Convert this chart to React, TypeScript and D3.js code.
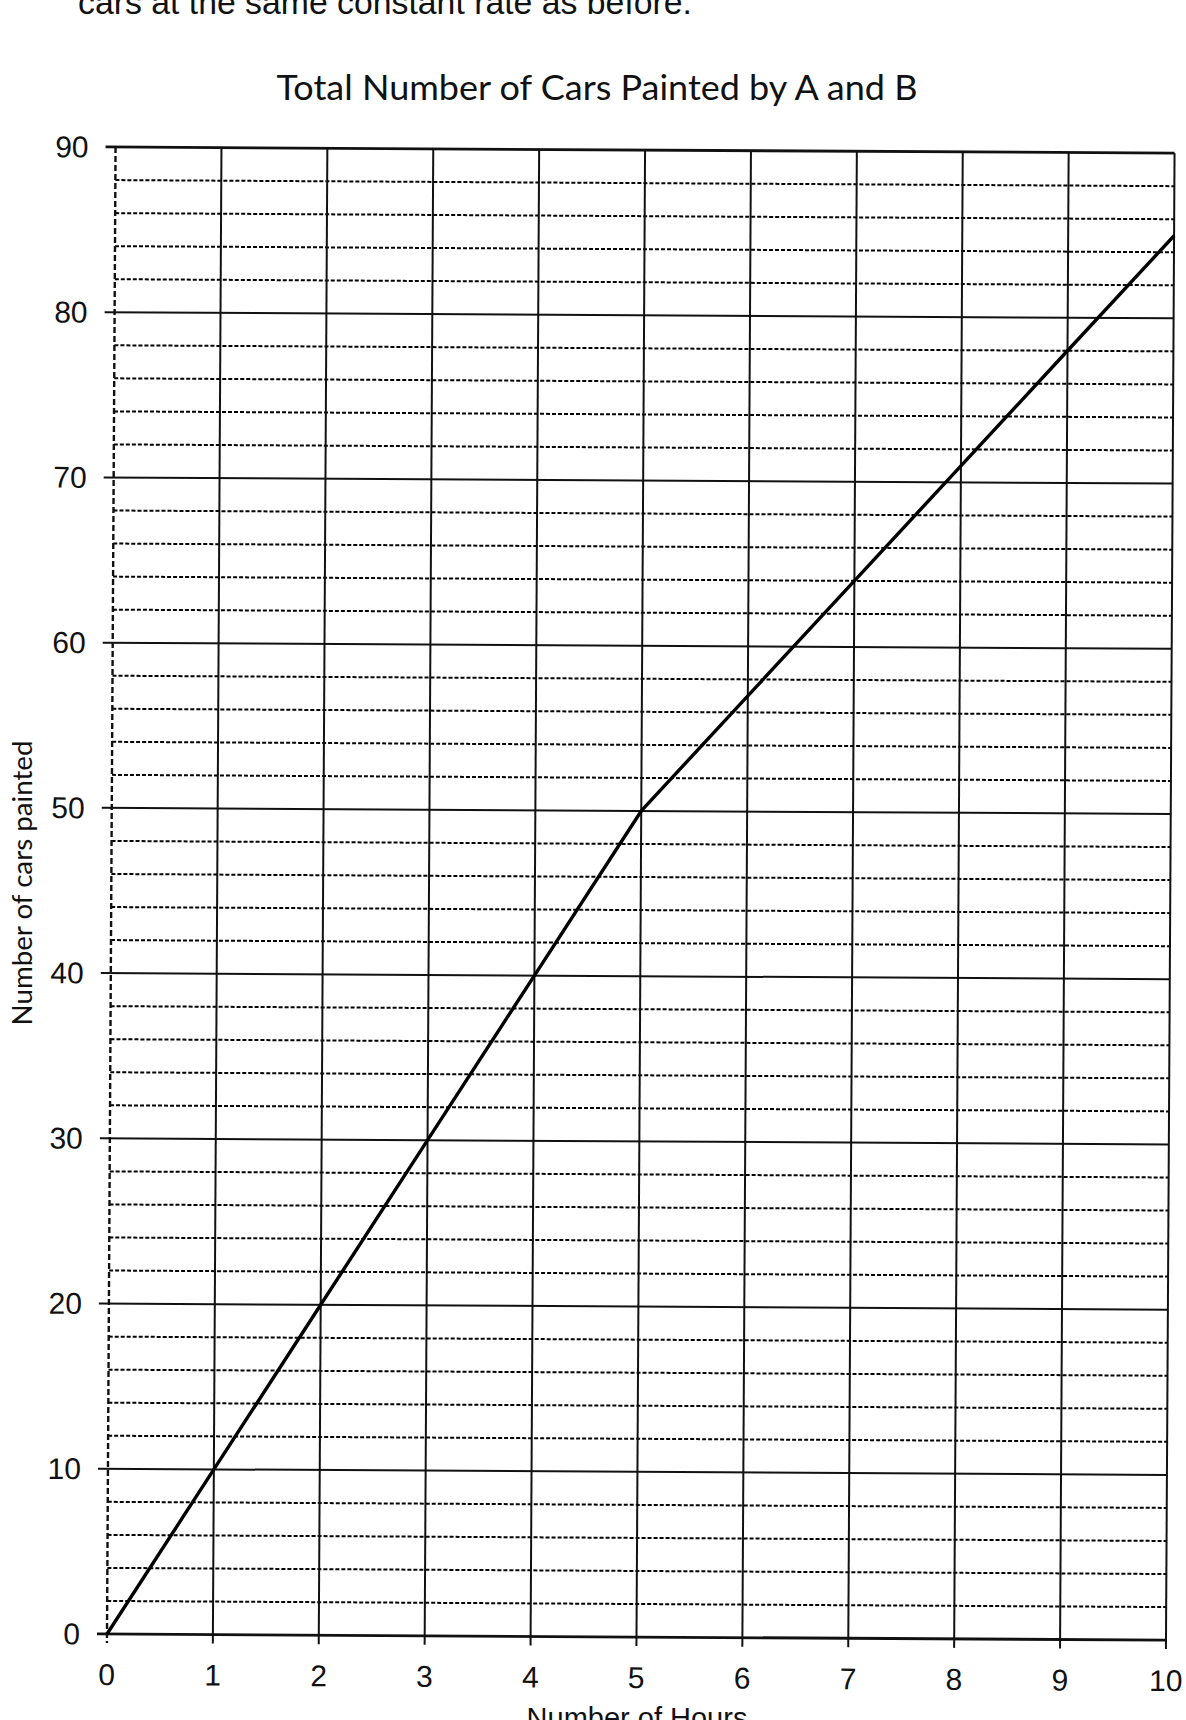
import React, { useEffect, useRef } from 'react';
import * as d3 from 'd3';

// chart values
const hours = [0, 1, 2, 3, 4, 5, 6, 7, 8, 9, 10];
const carsPainted = [0, 10, 20, 30, 40, 50, 57, 64, 71, 78, 85];
const yMajorTicks = [0, 10, 20, 30, 40, 50, 60, 70, 80, 90];
const xTickLabels = ['0', '1', '2', '3', '4', '5', '6', '7', '8', '9', '10'];

const chartTitle = 'Total Number of Cars Painted by A and B';
const xAxisTitle = 'Number of Hours';
const yAxisTitle = 'Number of cars painted';
const pageText = 'cars at the same constant rate as before.';

const App: React.FC = () => {
  const chartRef = useRef(null);

  useEffect(() => {
    if (!chartRef.current) return;
    const svg = d3.select(chartRef.current);
    svg.selectAll('*').remove();

    const W = 1186;
    const H = 1720;
    const left = 107;
    const bottom = 1634;
    const plotW = 1059;
    const plotH = 1487;

    svg.append('rect').attr('width', W).attr('height', H).attr('fill', '#fff');

    const x = d3.scaleLinear().domain([0, 10]).range([left, left + plotW]);
    const y = d3.scaleLinear().domain([0, 90]).range([bottom, bottom - plotH]);

    // text from the page above the chart (cut off by the scan, as in the original)
    svg
      .append('text')
      .attr('x', 78)
      .attr('y', 14)
      .attr('font-family', '"Liberation Sans", Arial, sans-serif')
      .attr('font-size', 34)
      .attr('fill', '#111')
      .attr('textLength', 614)
      .attr('lengthAdjust', 'spacingAndGlyphs')
      .text(pageText);

    svg
      .append('text')
      .attr('x', 597)
      .attr('y', 100)
      .attr('text-anchor', 'middle')
      .attr('font-family', 'Lato, "Open Sans", sans-serif')
      .attr('font-size', 34)
      .attr('fill', '#111')
      .attr('textLength', 641)
      .attr('lengthAdjust', 'spacingAndGlyphs')
      .text(chartTitle);

    svg
      .append('text')
      .attr('transform', 'translate(32,883) rotate(-90)')
      .attr('text-anchor', 'middle')
      .attr('font-family', 'Lato, "Open Sans", sans-serif')
      .attr('font-size', 27)
      .attr('fill', '#111')
      .attr('textLength', 285)
      .attr('lengthAdjust', 'spacingAndGlyphs')
      .text(yAxisTitle);

    svg
      .append('text')
      .attr('x', 637)
      .attr('y', 1728)
      .attr('text-anchor', 'middle')
      .attr('font-family', '"Liberation Sans", Arial, sans-serif')
      .attr('font-size', 29)
      .attr('fill', '#111')
      .text(xAxisTitle);

    // the scan is slightly tilted
    const chart = svg.append('g').attr('transform', `rotate(0.33, ${left}, ${bottom})`);

    const yMinorTicks = d3.range(0, 90, 2).filter((v) => v % 10 !== 0);

    // dashed minor gridlines
    chart
      .append('g')
      .selectAll('line')
      .data(yMinorTicks)
      .enter()
      .append('line')
      .attr('x1', left)
      .attr('x2', left + plotW)
      .attr('y1', (d) => y(d))
      .attr('y2', (d) => y(d))
      .attr('stroke', '#000')
      .attr('stroke-width', 2)
      .attr('stroke-dasharray', '4,2');

    // vertical gridlines and x ticks
    chart
      .append('g')
      .selectAll('line')
      .data(hours.slice(1))
      .enter()
      .append('line')
      .attr('x1', (d) => x(d))
      .attr('x2', (d) => x(d))
      .attr('y1', y(90))
      .attr('y2', bottom + 9)
      .attr('stroke', '#111')
      .attr('stroke-width', 2);

    // left axis (dashed)
    chart
      .append('line')
      .attr('x1', left)
      .attr('x2', left)
      .attr('y1', y(90))
      .attr('y2', bottom + 9)
      .attr('stroke', '#111')
      .attr('stroke-width', 2.4)
      .attr('stroke-dasharray', '6,3');

    // major horizontal gridlines with ticks
    chart
      .append('g')
      .selectAll('line')
      .data(yMajorTicks)
      .enter()
      .append('line')
      .attr('x1', left - 10)
      .attr('x2', left + plotW)
      .attr('y1', (d) => y(d))
      .attr('y2', (d) => y(d))
      .attr('stroke', '#111')
      .attr('stroke-width', (d) => (d === 0 || d === 90 ? 2.8 : 2));

    // y tick labels
    chart
      .append('g')
      .selectAll('text')
      .data(yMajorTicks)
      .enter()
      .append('text')
      .attr('x', left - 27)
      .attr('y', (d) => y(d))
      .attr('dy', '0.35em')
      .attr('text-anchor', 'end')
      .attr('font-family', '"Liberation Sans", Arial, sans-serif')
      .attr('font-size', 30)
      .attr('fill', '#111')
      .text((d) => String(d));

    // x tick labels
    chart
      .append('g')
      .selectAll('text')
      .data(hours)
      .enter()
      .append('text')
      .attr('x', (d) => x(d))
      .attr('y', bottom + 51)
      .attr('text-anchor', 'middle')
      .attr('font-family', '"Liberation Sans", Arial, sans-serif')
      .attr('font-size', 30)
      .attr('fill', '#111')
      .text((d, i) => xTickLabels[i]);

    // data line
    const line = d3
      .line<number>()
      .x((d, i) => x(hours[i]))
      .y((d) => y(d));

    chart
      .append('path')
      .datum(carsPainted)
      .attr('d', line)
      .attr('fill', 'none')
      .attr('stroke', '#000')
      .attr('stroke-width', 3.4)
      .attr('stroke-linejoin', 'round');

    return () => {
      svg.selectAll('*').remove();
    };
  }, []);

  return (
    <svg
      ref={chartRef}
      width={1186}
      height={1720}
      style={{ position: 'absolute', left: 0, top: 0 }}
    ></svg>
  );
};

export default App;
